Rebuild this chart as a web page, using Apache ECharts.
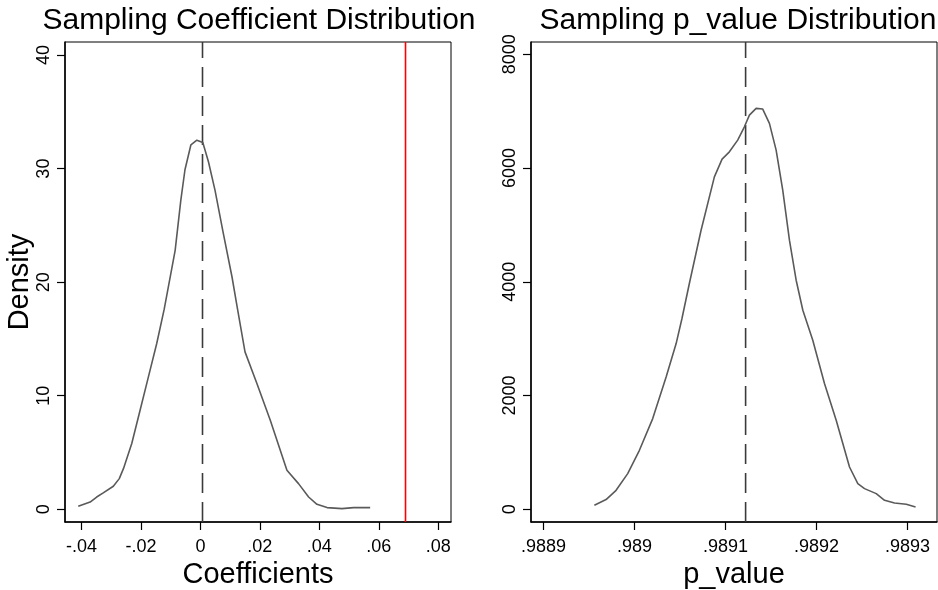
<!DOCTYPE html>
<html>
<head>
<meta charset="utf-8">
<title>Sampling distributions</title>
<script src="https://cdn.jsdelivr.net/npm/echarts@6/dist/echarts.min.js"></script>
<style>
  html, body { margin: 0; padding: 0; background: #fff; }
  #chart { width: 938px; height: 590px; }
</style>
</head>
<body>
<div id="chart"></div>
<script>
// Kernel density of the sampled coefficients
var coefX = [-0.0411, -0.0371, -0.0349, -0.0327, -0.0293, -0.0273, -0.0259, -0.0231, -0.0203,
  -0.0175, -0.0147, -0.0122, -0.0085, -0.0066, -0.0052, -0.0032, -0.0012, 0.0008, 0.0027,
  0.0049, 0.0077, 0.0106, 0.0125, 0.0150, 0.0190, 0.0235, 0.0291, 0.0330, 0.0364, 0.0392,
  0.0426, 0.0476, 0.0515, 0.0571];
var coefDensity = [0.26, 0.64, 1.08, 1.44, 2.03, 2.70, 3.58, 5.79, 8.72,
  11.66, 14.6, 17.6, 22.8, 27.2, 29.9, 32.1, 32.5, 32.3, 30.6,
  28.1, 24.3, 20.5, 17.6, 13.86, 11.07, 7.84, 3.44, 2.26, 1.08, 0.44,
  0.15, 0.06, 0.15, 0.15];

// Kernel density of the sampled p-values
var pX = [0.98895578, 0.98896865, 0.98897965, 0.98899241, 0.98900528, 0.98901991, 0.98903465,
  0.98904565, 0.98905200, 0.98906018, 0.98907305, 0.98908768, 0.98909615, 0.98910418,
  0.98911331, 0.98912068, 0.98912618, 0.98913355, 0.98914081, 0.98914818, 0.98915555,
  0.98916281, 0.98917018, 0.98917756, 0.98918490, 0.98919582, 0.98920869, 0.98922156,
  0.98923619, 0.98924532, 0.98925270, 0.98926557, 0.98927470, 0.98928570, 0.98929857,
  0.98930880];
var pDensity = [70, 171, 334, 628, 1038, 1595, 2327,
  2914, 3350, 3970, 4907, 5845, 6157, 6285,
  6491, 6725, 6931, 7049, 7037, 6785, 6315,
  5611, 4731, 4028, 3500, 2973, 2211, 1566,
  744, 452, 364, 276, 158, 111, 88,
  40];

// Reference lines: sample means (dashed) and the observed coefficient (red)
var coefMean = 0.0007;
var coefObserved = 0.069;
var pMean = 0.989122;

// Axis ranges
var coefRange = [-0.04556, 0.0843];
var coefDensityRange = [-1.12, 41.15];
var pRange = [0.98888614, 0.98933235];
var pDensityRange = [-223, 8216];

// Axis ticks and their labels
var coefTicks = [-0.04, -0.02, 0, 0.02, 0.04, 0.06, 0.08];
var coefTickLabels = ['-.04', '-.02', '0', '.02', '.04', '.06', '.08'];
var coefDensityTicks = [0, 10, 20, 30, 40];
var coefDensityLabels = ['0', '10', '20', '30', '40'];
var pTicks = [0.9889, 0.989, 0.9891, 0.9892, 0.9893];
var pTickLabels = ['.9889', '.989', '.9891', '.9892', '.9893'];
var pDensityTicks = [0, 2000, 4000, 6000, 8000];
var pDensityLabels = ['0', '2000', '4000', '6000', '8000'];

var FONT = '"Liberation Sans", Arial, Helvetica, sans-serif';

function zip(xs, ys) {
  return xs.map(function (x, i) { return [x, ys[i]]; });
}
function labelFor(ticks, labels) {
  return function (v) {
    var best = 0, d = Infinity;
    for (var i = 0; i < ticks.length; i++) {
      var e = Math.abs(ticks[i] - v);
      if (e < d) { d = e; best = i; }
    }
    return labels[best];
  };
}

var axisLineStyle = { show: true, onZero: false, lineStyle: { color: '#000', width: 1.5 } };
var tickStyle = { show: true, length: 8, lineStyle: { color: '#000', width: 1.2 } };

function xAxisFor(gridIndex, range, ticks, labels, name) {
  return {
    type: 'value', gridIndex: gridIndex, min: range[0], max: range[1],
    name: name, nameLocation: 'middle', nameGap: 36,
    nameTextStyle: { fontSize: 29, color: '#000', fontFamily: FONT },
    axisLine: axisLineStyle,
    axisTick: Object.assign({ customValues: ticks }, tickStyle),
    axisLabel: {
      customValues: ticks, formatter: labelFor(ticks, labels),
      fontSize: 18, color: '#000', fontFamily: FONT, margin: 16
    },
    splitLine: { show: false }
  };
}
function yAxisFor(gridIndex, range, ticks, labels, name) {
  return {
    type: 'value', gridIndex: gridIndex, min: range[0], max: range[1],
    name: name, nameLocation: 'middle', nameGap: 28, nameRotate: 90,
    nameTextStyle: { fontSize: 29, color: '#000', fontFamily: FONT },
    axisLine: axisLineStyle,
    axisTick: Object.assign({ customValues: ticks }, tickStyle),
    axisLabel: {
      customValues: ticks, formatter: labelFor(ticks, labels), rotate: 90,
      fontSize: 18, color: '#000', fontFamily: FONT, margin: 12
    },
    splitLine: { show: false }
  };
}

// A vertical reference line spanning the full height of its plot
function vline(xIdx, x, yRange, color, dash) {
  return {
    type: 'line', xAxisIndex: xIdx, yAxisIndex: xIdx, silent: true,
    data: [[x, yRange[0]], [x, yRange[1]]],
    showSymbol: false, z: 1,
    lineStyle: { color: color, width: 1.6, type: dash }
  };
}

var curveStyle = { color: '#5a5a5a', width: 1.6 };
var titleStyle = { fontSize: 30, fontWeight: 'normal', color: '#000', fontFamily: FONT };

var chart = echarts.init(document.getElementById('chart'), null, { renderer: 'canvas' });
chart.setOption({
  animation: false,
  backgroundColor: '#fff',
  title: [
    { text: 'Sampling Coefficient Distribution', left: 254, top: 1, textAlign: 'center', textStyle: titleStyle },
    { text: 'Sampling p_value Distribution', left: 733, top: 1, textAlign: 'center', textStyle: titleStyle }
  ],
  grid: [
    { left: 65, top: 42, width: 386, height: 480, show: true, borderColor: '#000', borderWidth: 1,
      containLabel: false, outerBoundsMode: 'none' },
    { left: 531, top: 42, width: 406, height: 480, show: true, borderColor: '#000', borderWidth: 1,
      containLabel: false, outerBoundsMode: 'none' }
  ],
  xAxis: [
    xAxisFor(0, coefRange, coefTicks, coefTickLabels, 'Coefficients'),
    xAxisFor(1, pRange, pTicks, pTickLabels, 'p_value')
  ],
  yAxis: [
    yAxisFor(0, coefDensityRange, coefDensityTicks, coefDensityLabels, 'Density'),
    yAxisFor(1, pDensityRange, pDensityTicks, pDensityLabels, '')
  ],
  series: [
    vline(0, coefMean, coefDensityRange, '#3a3a3a', [20, 9]),
    vline(0, coefObserved, coefDensityRange, '#ff0000', 'solid'),
    vline(1, pMean, pDensityRange, '#3a3a3a', [20, 9]),
    {
      type: 'line', xAxisIndex: 0, yAxisIndex: 0, data: zip(coefX, coefDensity),
      showSymbol: false, lineStyle: curveStyle, smooth: false, z: 2
    },
    {
      type: 'line', xAxisIndex: 1, yAxisIndex: 1, data: zip(pX, pDensity),
      showSymbol: false, lineStyle: curveStyle, smooth: false, z: 2
    }
  ]
});
</script>
</body>
</html>
